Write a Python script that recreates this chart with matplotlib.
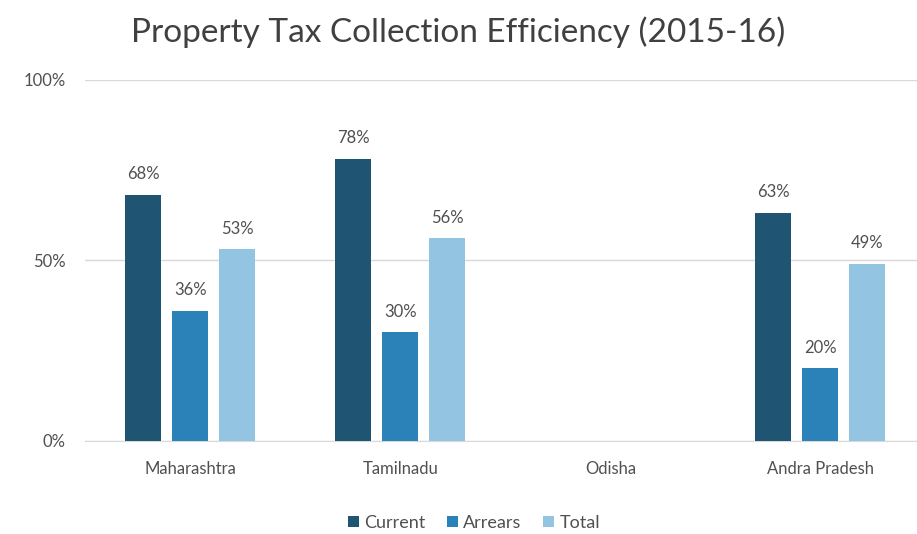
import matplotlib.pyplot as plt
import numpy as np
from matplotlib.ticker import FuncFormatter

plt.rcParams['font.family'] = ['Lato', 'DejaVu Sans']

states = ['Maharashtra', 'Tamilnadu', 'Odisha', 'Andra Pradesh']
current = [68, 78, np.nan, 63]
arrears = [36, 30, np.nan, 20]
total = [53, 56, np.nan, 49]
series_names = ['Current', 'Arrears', 'Total']
colors = ['#1f5473', '#2b82b8', '#93c5e2']
text_color = '#505050'

fig = plt.figure(figsize=(9.17, 5.34), dpi=100)
ax = fig.add_axes([0.093, 0.175, 0.907, 0.676])

x = np.arange(len(states))
width = 0.172
step = 0.224
for i, (vals, name, c) in enumerate(zip([current, arrears, total], series_names, colors)):
    pos = x + (i - 1) * step
    ax.bar(pos, vals, width=width, color=c, label=name, zorder=3)
    for p, v in zip(pos, vals):
        if not np.isnan(v):
            ax.text(p, v + 3.5, f'{v:.0f}%', ha='center', va='bottom',
                    fontsize=12, color=text_color)

ax.set_ylim(0, 100)
ax.set_xlim(-0.5, 3.46)
ax.set_yticks([0, 50, 100])
ax.yaxis.set_major_formatter(FuncFormatter(lambda v, p: f'{v:.0f}%'))
ax.set_xticks(x)
ax.set_xticklabels(states)
ax.tick_params(axis='x', length=0, labelsize=12, colors=text_color, pad=15)
ax.tick_params(axis='y', length=0, labelsize=12, colors=text_color, pad=14)
ax.grid(axis='y', color='#d9d9d9', linewidth=1, zorder=0)
for s in ['top', 'right', 'left']:
    ax.spines[s].set_visible(False)
ax.spines['bottom'].set_color('#d9d9d9')

fig.suptitle('Property Tax Collection Efficiency (2015-16)', y=0.97,
             fontsize=24, color='#404040')
fig.legend(loc='lower center', bbox_to_anchor=(0.517, -0.025), ncol=3, frameon=False,
           fontsize=13, handlelength=0.6, handleheight=0.6, handletextpad=0.3,
           columnspacing=1.2, labelcolor=text_color)

fig.savefig('out.png', dpi=100, facecolor='white')
